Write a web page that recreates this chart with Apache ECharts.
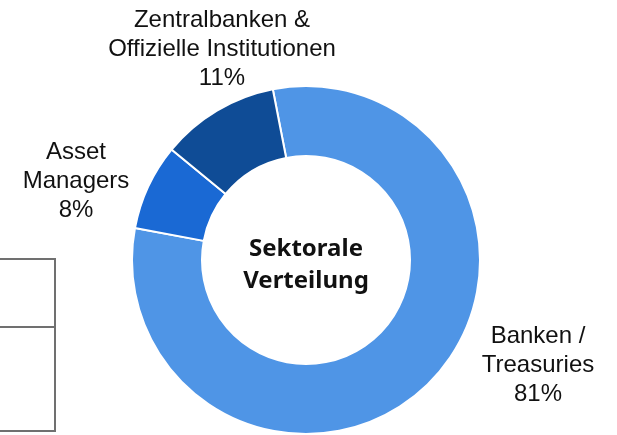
<!DOCTYPE html>
<html>
<head>
<meta charset="utf-8">
<script src="https://cdn.jsdelivr.net/npm/echarts@6/dist/echarts.min.js"></script>
<style>
html, body { margin: 0; padding: 0; background: #fff; }
#chart-0 { width: 617px; height: 435px; }
</style>
</head>
<body>
<div id="chart-0"></div>
<script>
var sectors = ['Banken /\nTreasuries', 'Asset\nManagers', 'Zentralbanken &\nOffizielle Institutionen'];
var shares = [81, 8, 11];
var sectorColors = ['#4f95e6', '#1a69d4', '#0f4c96'];
var centerTitle = 'Sektorale\nVerteilung';

// where each label sits (anchor = centre of the text block)
var labelSpots = [[538, 365], [76, 181], [222, 49]];

var chart = echarts.init(document.getElementById('chart-0'));

var pieData = [];
for (var i = 0; i < sectors.length; i++) {
    pieData.push({
        name: sectors[i],
        value: shares[i],
        itemStyle: { color: sectorColors[i] }
    });
}

var option = {
    animation: false,
    graphic: [
        {
            type: 'text',
            x: 306, y: 265,
            style: {
                text: centerTitle,
                textAlign: 'center',
                textVerticalAlign: 'middle',
                font: 'bold 24px "Noto Sans"',
                lineHeight: 32,
                fill: '#111'
            }
        },
        {
            type: 'polyline',
            shape: { points: [[-5, 259], [55, 259], [55, 431], [-5, 431]] },
            style: { stroke: '#707070', lineWidth: 2, fill: null }
        },
        {
            type: 'line',
            shape: { x1: -5, y1: 327, x2: 55, y2: 327 },
            style: { stroke: '#707070', lineWidth: 2 }
        }
    ],
    series: [{
        type: 'pie',
        center: [306, 260],
        radius: [104, 174],
        startAngle: 101,
        clockwise: true,
        itemStyle: { borderColor: '#fff', borderWidth: 2 },
        label: {
            show: true,
            position: 'outside',
            formatter: function(p) { return p.name + '\n' + p.value + '%'; },
            fontFamily: 'Liberation Sans',
            fontSize: 24,
            lineHeight: 29,
            color: '#111',
            align: 'center',
            overflow: 'none'
        },
        labelLine: { show: false },
        labelLayout: function(params) {
            var spot = labelSpots[params.dataIndex];
            return {
                x: spot[0],
                y: spot[1],
                align: 'center',
                verticalAlign: 'middle',
                width: 400
            };
        },
        data: pieData
    }]
};
chart.setOption(option);
</script>
</body>
</html>
